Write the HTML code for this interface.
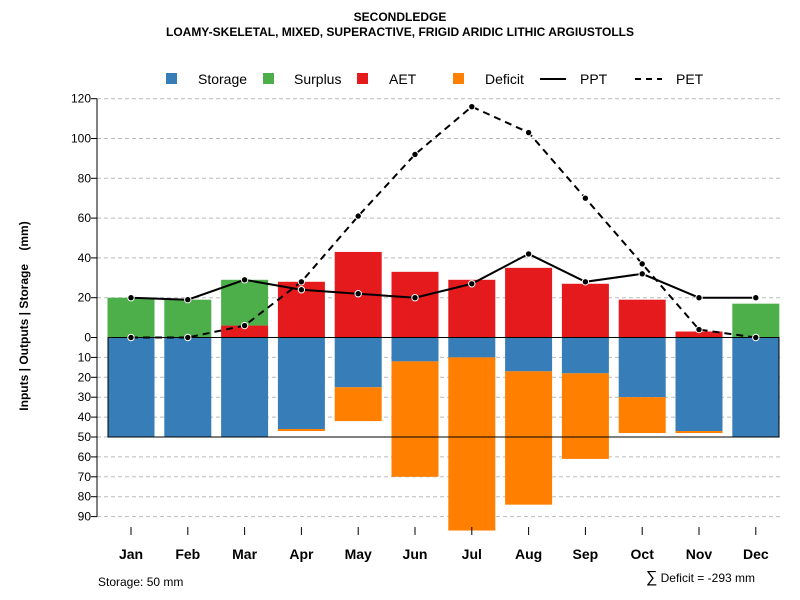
<!DOCTYPE html>
<html><head><meta charset="utf-8"><style>
body{margin:0;background:#fff}
svg{display:block;font-family:"Liberation Sans",sans-serif}
</style></head><body>
<svg id="chart" width="800" height="600" xmlns="http://www.w3.org/2000/svg">
<text x="400" y="21" text-anchor="middle" font-size="12" font-weight="bold">SECONDLEDGE</text>
<text x="400" y="36" text-anchor="middle" font-size="12" font-weight="bold">LOAMY-SKELETAL, MIXED, SUPERACTIVE, FRIGID ARIDIC LITHIC ARGIUSTOLLS</text>
<g id="legend">
<rect x="166" y="73" width="11" height="11" fill="#377EB8"/>
<text x="198" y="84" font-size="14">Storage</text>
<rect x="263" y="73" width="11" height="11" fill="#4DAF4A"/>
<text x="294" y="84" font-size="14">Surplus</text>
<rect x="357" y="73" width="11" height="11" fill="#E41A1C"/>
<text x="389" y="84" font-size="14">AET</text>
<rect x="453" y="73" width="11" height="11" fill="#FF7F00"/>
<text x="485" y="84" font-size="14">Deficit</text>
<line x1="540" y1="79" x2="566" y2="79" stroke="#000" stroke-width="2"/>
<text x="580" y="84" font-size="14">PPT</text>
<line x1="635" y1="79" x2="662" y2="79" stroke="#000" stroke-width="2" stroke-dasharray="6,5"/>
<text x="676" y="84" font-size="14">PET</text>
</g>
<text transform="translate(28,316) rotate(-90)" text-anchor="middle" font-size="12" font-weight="bold" xml:space="preserve" style="white-space:pre">Inputs | Outputs | Storage    (mm)</text>
<text x="98" y="586" font-size="12">Storage: 50 mm</text>
<text x="755" y="582" text-anchor="end" font-size="12"><tspan font-size="16">∑</tspan> Deficit = -293 mm</text>
<g id="grid"></g><g id="bars"></g><g id="axes"></g><g id="lines"></g>
</svg>
<script>
const months=["Jan","Feb","Mar","Apr","May","Jun","Jul","Aug","Sep","Oct","Nov","Dec"];
const aet=[0,0,6,28,43,33,29,35,27,19,3,0];
const surplus=[20,19,23,0,0,0,0,0,0,0,0,17];
const storage=[50,50,50,46,25,12,10,17,18,30,47,50];
const deficit=[0,0,0,1,17,58,87,67,43,18,1,0];
const ppt=[20,19,29,24,22,20,27,42,28,32,20,20];
const pet=[0,0,6,28,61,92,116,103,70,37,4,0];
const upTicks=[0,20,40,60,80,100,120];
const downTicks=[10,20,30,40,50,60,70,80,90];
const storageMax=50;
const NS="http://www.w3.org/2000/svg";
const y0=337.5,k=1.99;
const yUp=v=>y0-v*k, yDn=v=>y0+v*k;
const x=i=>131+i*56.8, bw=47;
function mk(p,t,a){const e=document.createElementNS(NS,t);for(const n in a)e.setAttribute(n,a[n]);document.getElementById(p).appendChild(e);return e;}
upTicks.forEach(v=>{
 if(v>0){const g=mk("grid","line",{x1:97,x2:780,y1:yUp(v),y2:yUp(v),stroke:"#bbb","stroke-dasharray":"4,3"});
 }
 const t=mk("axes","text",{x:91,y:yUp(v)+4,"text-anchor":"end","font-size":12});t.textContent=v;
 
 const tk=mk("axes","line",{x1:91,x2:97,y1:yUp(v),y2:yUp(v),stroke:"#000"});
 
});
downTicks.forEach(v=>{
 const g=mk("grid","line",{x1:97,x2:780,y1:yDn(v),y2:yDn(v),stroke:"#bbb","stroke-dasharray":"4,3"});
 
 const t=mk("axes","text",{x:91,y:yDn(v)+4,"text-anchor":"end","font-size":12});t.textContent=v;
 
 const tk=mk("axes","line",{x1:91,x2:97,y1:yDn(v),y2:yDn(v),stroke:"#000"});
 
});
const ax=mk("axes","line",{x1:97,x2:97,y1:yUp(120),y2:yDn(90),stroke:"#000"});

months.forEach((m,i)=>{
 const b1=mk("bars","rect",{x:x(i)-bw/2,y:yUp(aet[i]),width:bw,height:aet[i]*k,fill:"#E41A1C"});
 
 const b2=mk("bars","rect",{x:x(i)-bw/2,y:yUp(aet[i]+surplus[i]),width:bw,height:surplus[i]*k,fill:"#4DAF4A"});
 
 const b3=mk("bars","rect",{x:x(i)-bw/2,y:y0,width:bw,height:storage[i]*k,fill:"#377EB8"});
 
 const b4=mk("bars","rect",{x:x(i)-bw/2,y:yDn(storage[i]),width:bw,height:deficit[i]*k,fill:"#FF7F00"});
 
 const tk=mk("axes","line",{x1:x(i),x2:x(i),y1:527,y2:535,stroke:"#000"});
 
 const t=mk("axes","text",{x:x(i),y:559,"text-anchor":"middle","font-size":14,"font-weight":"bold"});t.textContent=m;
 
});
const box=mk("bars","rect",{x:108,y:y0,width:671,height:storageMax*k,fill:"none",stroke:"#000"});

function series(arr,dash,name){
 const p=mk("lines","polyline",{points:arr.map((v,i)=>x(i)+","+yUp(v)).join(" "),fill:"none",stroke:"#000","stroke-width":2,"stroke-dasharray":dash});
 
 arr.forEach((v,i)=>{const c=mk("lines","circle",{cx:x(i),cy:yUp(v),r:3.2,fill:"#000",stroke:"#fff","stroke-width":1});
 });
}
series(pet,"7,5","pet");
series(ppt,"none","ppt");
</script>
</body></html>
